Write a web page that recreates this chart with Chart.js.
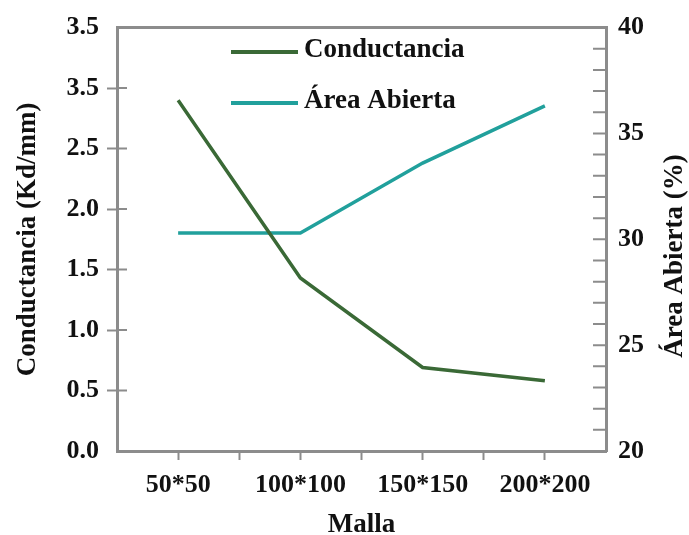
<!DOCTYPE html>
<html>
<head>
<meta charset="utf-8">
<script src="https://cdn.jsdelivr.net/npm/chart.js@4.4.1/dist/chart.umd.min.js"></script>
<style>
  html, body { margin: 0; padding: 0; background: #fff; }
  #wrap { width: 689px; height: 535px; position: relative; }
</style>
</head>
<body>
<div id="wrap"><canvas id="chart"></canvas></div>
<script>
// ---- data ----
const categories = ['50*50', '100*100', '150*150', '200*200'];
const conductancia = [2.90, 1.43, 0.69, 0.58];
const areaAbierta = [30.3, 30.3, 33.6, 36.3];
// left tick labels as printed in the figure (the 3.0 mark reads "3.5")
const leftTicks = ['0.0', '0.5', '1.0', '1.5', '2.0', '2.5', '3.5', '3.5'];

const GREEN = '#3a6936';
const TEAL = '#21a09c';
const AXIS = '#8c8c8c';
const FAMILY = '"Liberation Serif", "Times New Roman", serif';
const TICK_FONT = { family: FAMILY, weight: 'bold', size: 26 };
const TITLE_FONT = { family: FAMILY, weight: 'bold', size: 27 };

// inward tick marks, top border, right title, legend
const extras = {
    id: 'extras',
    afterDraw(chart) {
        const c = chart.ctx;
        const a = chart.chartArea;
        const yl = chart.scales.y, yr = chart.scales.y1;
        c.save();
        c.strokeStyle = AXIS;
        c.lineWidth = 2;
        c.beginPath();
        yl.ticks.forEach((t, i) => {
            if (i === 0 || i === yl.ticks.length - 1) return;
            const py = yl.getPixelForValue(t.value);
            c.moveTo(a.left, py); c.lineTo(a.left + 10, py);
        });
        yr.ticks.forEach((t, i) => {
            if (i === 0 || i === yr.ticks.length - 1) return;
            const py = yr.getPixelForValue(t.value);
            c.moveTo(a.right - 13, py); c.lineTo(a.right, py);
        });
        c.stroke();
        c.lineWidth = 3;
        c.beginPath();
        c.moveTo(a.left, a.top); c.lineTo(a.right, a.top);
        c.stroke();

        c.fillStyle = '#111';
        c.font = 'bold 27px ' + FAMILY;
        c.textAlign = 'center';
        c.textBaseline = 'middle';
        c.translate(675, 256);
        c.rotate(-Math.PI / 2);
        c.fillText('Área Abierta (%)', 0, 0);
        c.restore();

        // legend
        c.save();
        c.font = 'bold 27px ' + FAMILY;
        c.textBaseline = 'middle';
        c.lineWidth = 4;
        chart.data.datasets.forEach((ds, i) => {
            const y = 52 + i * 51;
            c.strokeStyle = ds.borderColor;
            c.beginPath(); c.moveTo(231, y); c.lineTo(298, y); c.stroke();
            c.fillStyle = '#111';
            c.fillText(ds.label, 304, y - 2);
        });
        c.restore();
    }
};

new Chart(document.getElementById('chart'), {
    type: 'line',
    data: {
        datasets: [{
            label: 'Conductancia',
            data: conductancia.map((v, i) => ({ x: i, y: v })),
            borderColor: GREEN,
            borderWidth: 3.5,
            pointRadius: 0,
            yAxisID: 'y'
        }, {
            label: 'Área Abierta',
            data: areaAbierta.map((v, i) => ({ x: i, y: v })),
            borderColor: TEAL,
            borderWidth: 3.5,
            pointRadius: 0,
            yAxisID: 'y1'
        }]
    },
    options: {
        responsive: true,
        maintainAspectRatio: false,
        animation: false,
        layout: { padding: { top: 27, left: 0, right: 0, bottom: 0 } },
        plugins: {
            legend: { display: false },
            tooltip: { enabled: false }
        },
        scales: {
            x: {
                type: 'linear',
                min: -0.5,
                max: categories.length - 0.5,
                afterBuildTicks: s => {
                    s.ticks = s.ticks.filter(t => t.value > s.min && t.value < s.max);
                },
                afterFit: s => { s.height = 84; },
                ticks: {
                    stepSize: 0.5,
                    autoSkip: false,
                    maxRotation: 0,
                    padding: 10,
                    color: '#111',
                    font: TICK_FONT,
                    callback: v => Number.isInteger(v) ? categories[v] : ''
                },
                grid: { drawOnChartArea: false, tickLength: 9, tickColor: AXIS, tickWidth: 2 },
                border: { color: AXIS, width: 3 },
                title: { display: true, text: 'Malla', color: '#111', font: TITLE_FONT, padding: { top: 0, bottom: -6 } }
            },
            y: {
                position: 'left',
                min: 0,
                max: 3.5,
                afterFit: s => { s.width = 117; },
                ticks: {
                    stepSize: 0.5,
                    padding: 8,
                    color: '#111',
                    font: TICK_FONT,
                    callback: (v, i) => leftTicks[i]
                },
                grid: {
                    drawOnChartArea: false,
                    tickLength: 10,
                    tickWidth: 2,
                    tickColor: ctx => (ctx.index === 0 || ctx.index === leftTicks.length - 1) ? 'rgba(0,0,0,0)' : AXIS
                },
                border: { color: AXIS, width: 3 },
                title: { display: true, text: 'Conductancia (Kd/mm)', color: '#111', font: TITLE_FONT, padding: { top: 12, bottom: 0 } }
            },
            y1: {
                position: 'right',
                min: 20,
                max: 40,
                afterFit: s => { s.width = 83; },
                ticks: {
                    stepSize: 1,
                    autoSkip: false,
                    padding: 12,
                    color: '#111',
                    font: TICK_FONT,
                    callback: v => v % 5 === 0 ? v : ''
                },
                grid: { drawOnChartArea: false, drawTicks: false },
                border: { color: AXIS, width: 3 }
            }
        }
    },
    plugins: [extras]
});
</script>
</body>
</html>
